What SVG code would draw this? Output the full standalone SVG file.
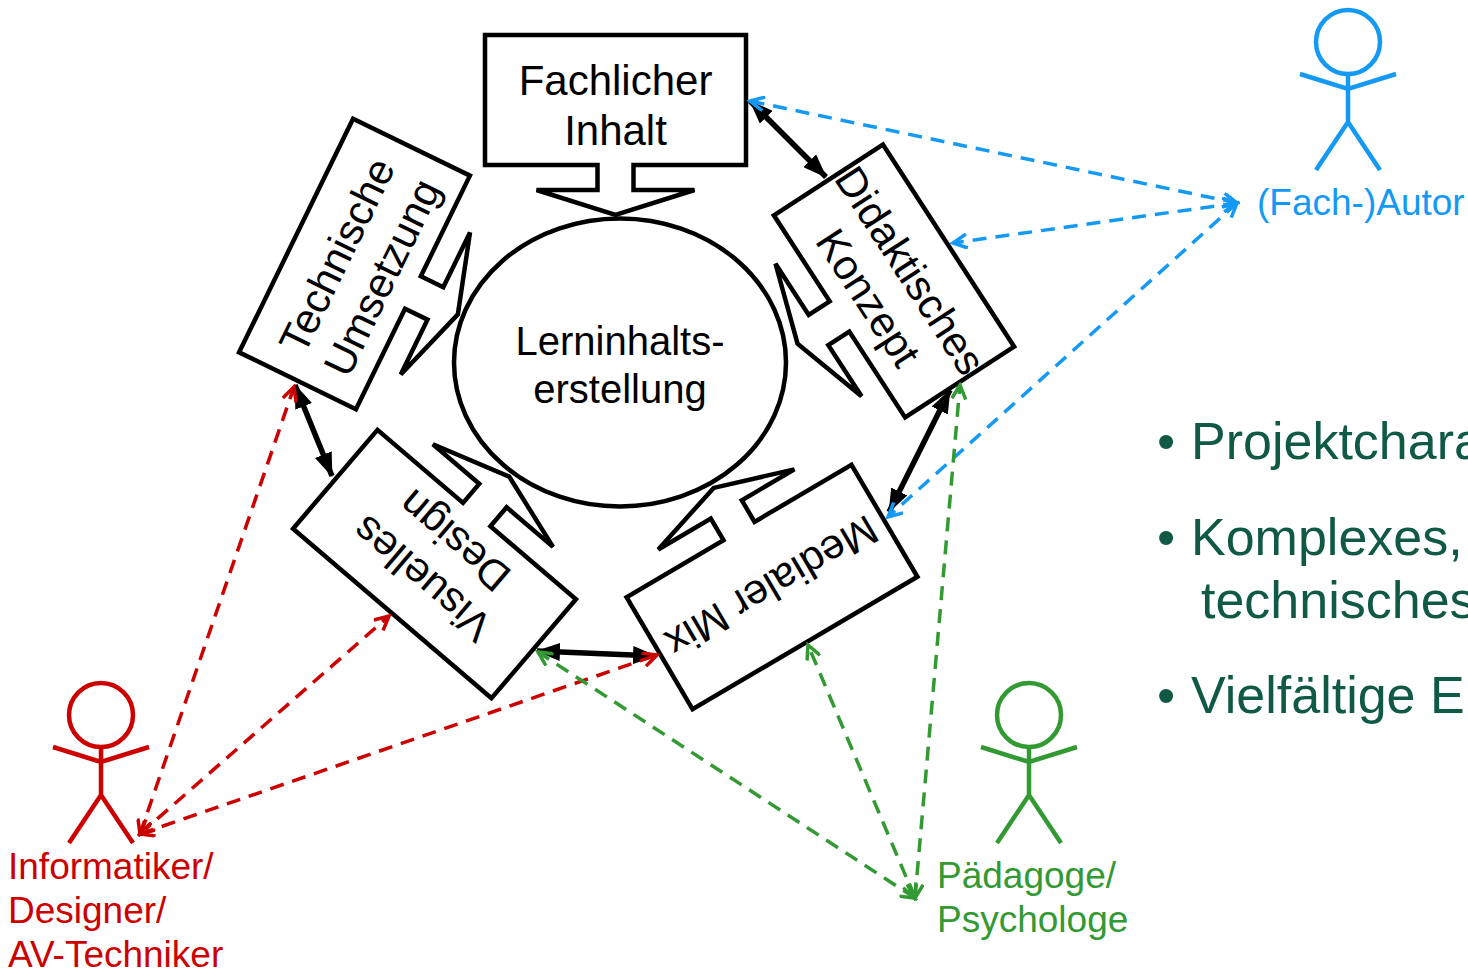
<svg xmlns="http://www.w3.org/2000/svg" width="1468" height="973" viewBox="0 0 1468 973">
<style>
.box{fill:#fff;stroke:#000;stroke-width:4.5;stroke-linejoin:miter}
.ell{fill:#fff;stroke:#000;stroke-width:4.5}
.t{font-family:"Liberation Sans",Arial,sans-serif;font-size:42px;text-anchor:middle;fill:#000}
.blk{stroke:#000;stroke-width:5.5;fill:none;marker-start:url(#ab);marker-end:url(#ab)}
.dash{fill:none;stroke-width:3.5;stroke-dasharray:14 9}
.blue{stroke:#1499F5;marker-start:url(#ablue);marker-end:url(#ablue)}
.red{stroke:#CC0000;marker-start:url(#ared);marker-end:url(#ared)}
.green{stroke:#339933;marker-start:url(#agreen);marker-end:url(#agreen)}
.fig{fill:none;stroke-width:4.5;stroke-linecap:butt}
.lbl{font-family:"Liberation Sans",Arial,sans-serif;font-size:37px}
.bul{font-family:"Liberation Sans",Arial,sans-serif;font-size:52px;fill:#105A45}
</style>
<defs>
<path id="callout261" d="M-130.5,-65 H130.5 V65 H18 V90 H79 L0,115 L-79,90 H-18 V65 H-130.5 Z"/>
<path id="callout260" d="M-130,-65 H130 V65 H18 V90 H79 L0,115 L-79,90 H-18 V65 H-130 Z"/>
<path id="callout241" d="M-120.5,-65 H120.5 V65 H18 V90 H79 L0,115 L-79,90 H-18 V65 H-120.5 Z"/>
<marker id="ab" markerUnits="userSpaceOnUse" markerWidth="24" markerHeight="18" refX="23" refY="9" orient="auto-start-reverse">
<path d="M0,0 L24,9 L0,18 Z" fill="#000"/>
</marker>
<marker id="ablue" markerUnits="userSpaceOnUse" markerWidth="18" markerHeight="16" refX="15" refY="8" orient="auto-start-reverse">
<path d="M1,1 L15,8 L1,15" fill="none" stroke="#1499F5" stroke-width="3.5"/>
</marker>
<marker id="ared" markerUnits="userSpaceOnUse" markerWidth="18" markerHeight="16" refX="15" refY="8" orient="auto-start-reverse">
<path d="M1,1 L15,8 L1,15" fill="none" stroke="#CC0000" stroke-width="3.5"/>
</marker>
<marker id="agreen" markerUnits="userSpaceOnUse" markerWidth="18" markerHeight="16" refX="15" refY="8" orient="auto-start-reverse">
<path d="M1,1 L15,8 L1,15" fill="none" stroke="#339933" stroke-width="3.5"/>
</marker>
</defs>
<rect width="1468" height="973" fill="#fff"/>

<g id="center">
<ellipse class="ell" cx="620" cy="362.5" rx="166" ry="144"/>
<text class="t" style="font-size:40px" x="620" y="355">Lerninhalts-</text>
<text class="t" style="font-size:40px" x="620" y="403">erstellung</text>
</g>

<g id="fachlicher" transform="translate(615.5,100)">
<use href="#callout261" class="box"/>
<text class="t" x="0" y="-5">Fachlicher</text>
<text class="t" x="0" y="45">Inhalt</text>
</g>

<g id="technische" transform="translate(354.5,264) rotate(-64)">
<use href="#callout260" class="box"/>
<text class="t" x="0" y="-5">Technische</text>
<text class="t" x="0" y="45">Umsetzung</text>
</g>

<g id="didaktisches" transform="translate(894,281) rotate(57)">
<use href="#callout241" class="box"/>
<text class="t" x="0" y="-5">Didaktisches</text>
<text class="t" x="0" y="45">Konzept</text>
</g>

<g id="visuelles" transform="translate(434.5,564) rotate(-139.5)">
<use href="#callout261" class="box"/>
<text class="t" x="0" y="-5">Visuelles</text>
<text class="t" x="0" y="45">Design</text>
</g>

<g id="medialer" transform="translate(772,587) rotate(149.5)">
<use href="#callout261" class="box"/>
<text class="t" x="0" y="15">Medialer Mix</text>
</g>

<g id="connectors">
<line class="blk" x1="750" y1="101" x2="826" y2="177"/>
<line class="blk" x1="295" y1="385" x2="332" y2="476"/>
<line class="blk" x1="950" y1="390" x2="889" y2="512"/>
<line class="blk" x1="537" y1="651" x2="656" y2="656"/>
<line class="dash blue" x1="1237" y1="203" x2="750" y2="101"/>
<line class="dash blue" x1="1237" y1="203" x2="953" y2="243"/>
<line class="dash blue" x1="1237" y1="203" x2="888" y2="517"/>
<line class="dash red" x1="140" y1="834" x2="294" y2="387"/>
<line class="dash red" x1="140" y1="834" x2="389" y2="616"/>
<line class="dash red" x1="140" y1="834" x2="657" y2="655"/>
<line class="dash green" x1="915" y1="898" x2="538" y2="652"/>
<line class="dash green" x1="915" y1="898" x2="808" y2="645"/>
<line class="dash green" x1="915" y1="898" x2="960" y2="385"/>
</g>

<g id="autor">
<g class="fig" stroke="#1499F5" transform="translate(1348,42)">
<circle r="32"/>
<path d="M0,32 V80 M-48,32 L0,47 L48,32 M-32,128 L0,80 L32,128"/>
</g>
<text class="lbl" fill="#1499F5" x="1257" y="215">(Fach-)Autor</text>
</g>

<g id="informatiker">
<g class="fig" stroke="#CC0000" transform="translate(101,715)">
<circle r="32"/>
<path d="M0,32 V80 M-48,32 L0,47 L48,32 M-32,128 L0,80 L32,128"/>
</g>
<text class="lbl" fill="#CC0000" x="8" y="879">Informatiker/</text>
<text class="lbl" fill="#CC0000" x="8" y="923">Designer/</text>
<text class="lbl" fill="#CC0000" x="8" y="967">AV-Techniker</text>
</g>

<g id="paedagoge">
<g class="fig" stroke="#339933" transform="translate(1029,715)">
<circle r="32"/>
<path d="M0,32 V80 M-48,32 L0,47 L48,32 M-32,128 L0,80 L32,128"/>
</g>
<text class="lbl" fill="#339933" x="937" y="888">Pädagoge/</text>
<text class="lbl" fill="#339933" x="937" y="932">Psychologe</text>
</g>

<g id="bullets">
<text class="bul" x="1157" y="459">•</text>
<text class="bul" x="1191" y="459">Projektchara</text>
<text class="bul" x="1157" y="555">•</text>
<text class="bul" x="1191" y="555">Komplexes,</text>
<text class="bul" x="1201" y="618">technisches</text>
<text class="bul" x="1157" y="713">•</text>
<text class="bul" x="1191" y="713">Vielfältige E</text>
</g>
</svg>
